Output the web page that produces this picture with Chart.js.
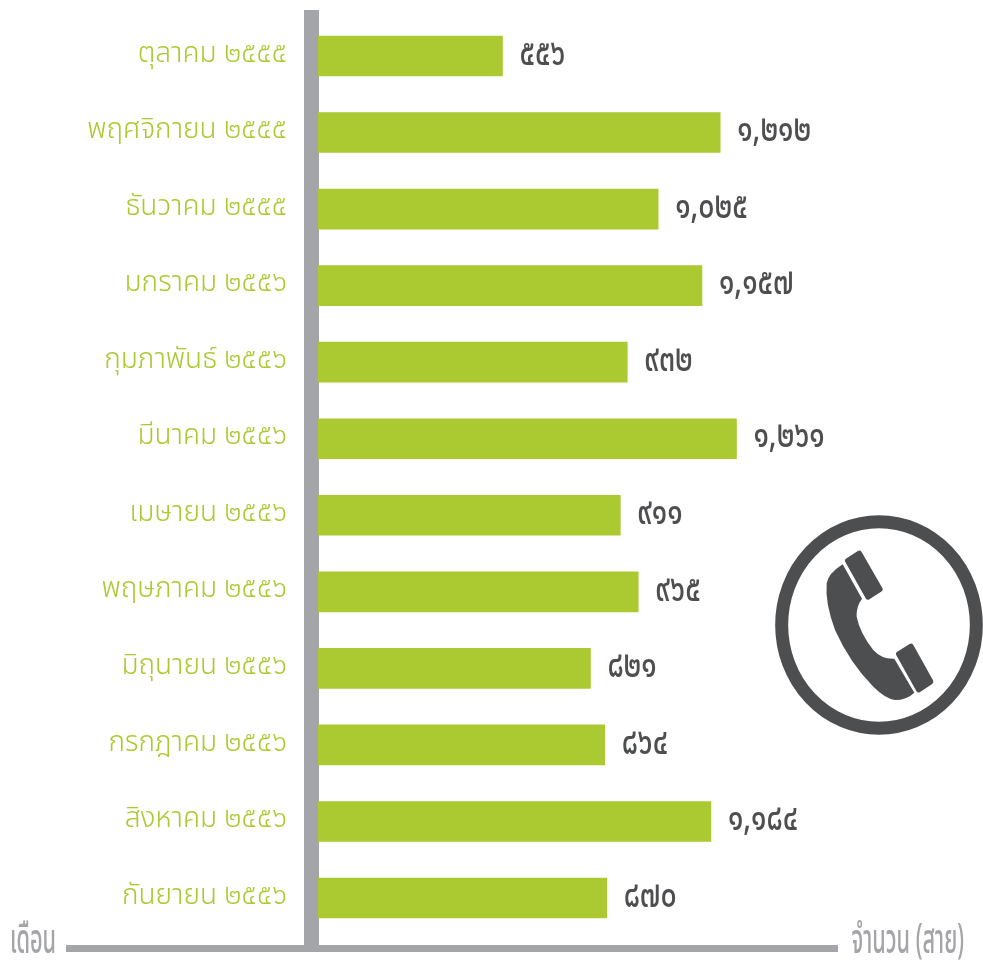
<!DOCTYPE html>
<html><head><meta charset="utf-8">
<style>html,body{margin:0;padding:0;background:#fff;overflow:hidden}#w{position:relative;width:983px;height:963px}canvas{position:absolute;left:0;top:0}svg{position:absolute;left:760px;top:500px}</style>
<script src="https://cdn.jsdelivr.net/npm/chart.js@4"></script></head>
<body><div id="w"><canvas id="c" width="983" height="963"></canvas>
<svg width="223" height="250" viewBox="0 0 669 750">
<ellipse cx="357" cy="375" rx="292" ry="310" fill="none" stroke="#4d4e50" stroke-width="39"/>
<path fill="#4d4e50" d="M248,193 L306,296 Q288,320 290,350 Q300,400 340,450 Q365,478 403,476 L463,578 Q440,600 405,600 Q375,595 340,560 Q270,490 225,390 Q195,310 200,250 Q205,220 248,193 Z"/>
<path fill="#4d4e50" stroke="#4d4e50" stroke-width="16" stroke-linejoin="round" d="M263,182 L298,160 L360,268 L324,291 Z"/>
<path fill="#4d4e50" stroke="#4d4e50" stroke-width="16" stroke-linejoin="round" d="M416,462 L453,439 L512,545 L476,569 Z"/>
</svg></div>
<script>
const categories = ["ตุลาคม ๒๕๕๕","พฤศจิกายน ๒๕๕๕","ธันวาคม ๒๕๕๕","มกราคม ๒๕๕๖","กุมภาพันธ์ ๒๕๕๖","มีนาคม ๒๕๕๖","เมษายน ๒๕๕๖","พฤษภาคม ๒๕๕๖","มิถุนายน ๒๕๕๖","กรกฎาคม ๒๕๕๖","สิงหาคม ๒๕๕๖","กันยายน ๒๕๕๖"];
const calls = [556,1212,1025,1157,932,1261,911,965,821,864,1184,870];
const valueLabels = ["๕๕๖","๑,๒๑๒","๑,๐๒๕","๑,๑๕๗","๙๓๒","๑,๒๖๑","๙๑๑","๙๖๕","๘๒๑","๘๖๔","๑,๑๘๔","๘๗๐"];
const xTitle = "จำนวน (สาย)";
const yTitle = "เดือน";
const GREEN="#abc930", GREY="#a4a5a8", DARK="#4d4e50";
const FONT='"Noto Sans Thai","Loma","Kinnari","Noto Sans","DejaVu Sans",sans-serif';
function squeezed(ctx,t,x,y,size,sx,color,align){
  ctx.save();ctx.translate(x,y);ctx.scale(sx,1);ctx.font="500 "+size+"px "+FONT;ctx.fillStyle=color;ctx.textAlign=align;ctx.textBaseline="middle";ctx.fillText(t,0,0);ctx.restore();
}
const decor={id:"decor",
 beforeDatasetsDraw(ch){const c=ch.ctx;c.save();c.fillStyle=GREY;
   c.fillRect(66,945,772,7);c.fillRect(304,10,15,938);c.restore();},
 afterDatasetsDraw(ch){const c=ch.ctx;const m=ch.getDatasetMeta(0);
   m.data.forEach((b,i)=>squeezed(c,valueLabels[i],b.x+17,b.y+1,38,0.75,DARK,"left"));
   squeezed(c,yTitle,10,945,41,0.53,GREY,"left");
   squeezed(c,xTitle,964,945,41,0.53,GREY,"right");
 }};
new Chart(document.getElementById("c"),{type:"bar",
 data:{labels:categories,datasets:[{data:calls,backgroundColor:GREEN,borderWidth:0,barThickness:40}]},
 plugins:[decor],
 options:{indexAxis:"y",responsive:false,animation:false,
  layout:{padding:{top:17.7,bottom:26.7,right:145,left:0}},
  plugins:{legend:{display:false},tooltip:{enabled:false}},
  scales:{
   x:{display:false,min:0,max:1567},
   y:{afterFit(s){s.width=318;s.paddingTop=0;s.paddingBottom=0},grid:{display:false,drawTicks:false,tickLength:0},border:{display:false},
      ticks:{color:GREEN,padding:31,font:{size:28,weight:"300",family:FONT}}}
  }}});
</script></body></html>
